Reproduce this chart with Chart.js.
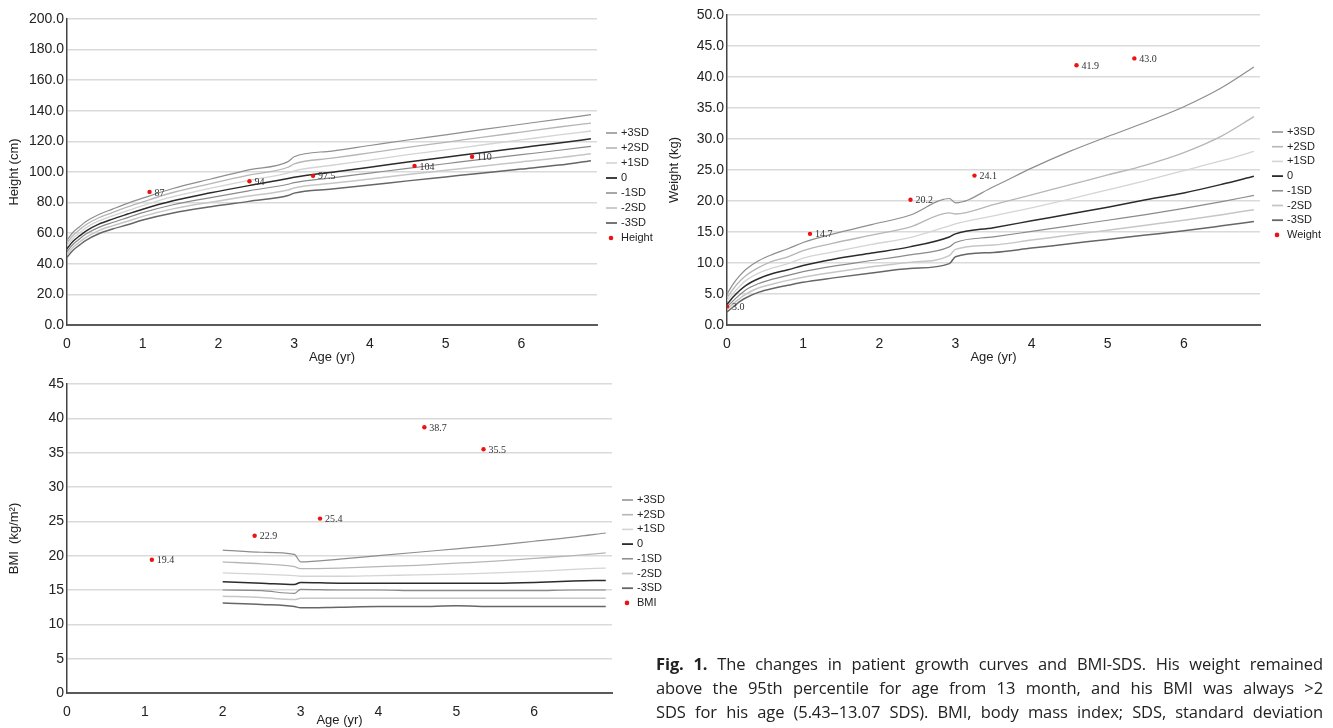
<!DOCTYPE html>
<html>
<head>
<meta charset="utf-8">
<script src="https://cdn.jsdelivr.net/npm/chart.js@4.4.0/dist/chart.umd.min.js"></script>
<style>
  body { margin: 0; background: #fff; width: 1333px; height: 728px; overflow: hidden; position: relative; }
  .box { position: absolute; }
  #caption { position: absolute; left: 656px; top: 652px; width: 667px; font-family: "Open Sans", "Noto Sans", sans-serif; font-size: 16.5px; letter-spacing: -0.1px; line-height: 24px; color: #222; }
  #caption div { text-align: justify; text-align-last: justify; }
</style>
</head>
<body>
<div class="box" style="left:0;top:0"><canvas id="heightChart" width="660" height="365"></canvas></div>
<div class="box" style="left:660px;top:0"><canvas id="weightChart" width="673" height="365"></canvas></div>
<div class="box" style="left:0;top:370px"><canvas id="bmiChart" width="680" height="358"></canvas></div>
<div id="caption">
  <div><b>Fig. 1.</b> The changes in patient growth curves and BMI-SDS. His weight remained</div>
  <div>above the 95th percentile for age from 13 month, and his BMI was always &gt;2</div>
  <div>SDS for his age (5.43–13.07 SDS). BMI, body mass index; SDS, standard deviation</div>
</div>
<script>
// ages (yr) used for the reference curves
const ages = [0, 0.08, 0.17, 0.25, 0.42, 0.6, 0.8, 1, 1.4, 1.9, 2.4, 2.92, 3, 3.5, 4, 4.5, 5, 5.5, 6, 6.5, 6.92];
const bmiAges = [2, 2.5, 2.92, 3, 3.5, 4, 4.5, 5, 5.5, 6, 6.5, 6.92];
const sdLabels = ['+3SD', '+2SD', '+1SD', '0', '-1SD', '-2SD', '-3SD'];

// height (cm)
const heightP3 = [55.6, 60.6, 64.4, 67.6, 72.2, 75.7, 79.5, 82.9, 89.2, 95.4, 101.4, 106.8, 110.0, 113.7, 117.3, 120.9, 124.3, 127.8, 131.2, 134.6, 137.5];
const heightP2 = [53.7, 58.6, 62.4, 65.5, 70.1, 73.5, 77.2, 80.5, 86.6, 92.4, 97.9, 103.1, 105.3, 109.0, 112.5, 116.1, 119.4, 122.8, 126.1, 129.4, 132.0];
const heightP1 = [51.8, 56.7, 60.4, 63.5, 68.0, 71.3, 74.8, 78.1, 83.9, 89.4, 94.5, 99.4, 100.8, 104.4, 107.8, 111.3, 114.5, 117.8, 121.0, 124.2, 126.8];
const height0  = [49.9, 54.7, 58.4, 61.4, 65.9, 69.2, 72.5, 75.7, 81.2, 86.4, 91.1, 95.7, 96.5, 99.9, 103.1, 106.5, 109.6, 112.8, 115.9, 119.0, 121.7];
const heightM1 = [48.0, 52.8, 56.4, 59.4, 63.8, 67.0, 70.2, 73.4, 78.6, 83.3, 87.7, 92.0, 93.0, 96.2, 99.3, 102.4, 105.4, 108.4, 111.3, 114.2, 116.8];
const heightM2 = [46.1, 50.8, 54.4, 57.3, 61.7, 64.8, 67.8, 71.0, 75.9, 80.3, 84.3, 88.3, 89.6, 92.6, 95.4, 98.3, 101.1, 103.9, 106.6, 109.3, 112.0];
const heightM3 = [44.2, 48.9, 52.4, 55.3, 59.6, 62.7, 65.5, 68.6, 73.2, 77.3, 80.8, 84.6, 86.2, 88.9, 91.5, 94.2, 96.8, 99.4, 101.9, 104.5, 107.4];

// weight (kg)
const weightP3 = [5.0, 6.6, 8.0, 9.0, 10.4, 11.4, 12.3, 13.3, 14.7, 16.2, 17.7, 20.4, 19.7, 22.3, 25.3, 28.0, 30.4, 32.7, 35.2, 38.3, 41.6];
const weightP2 = [4.4, 5.8, 7.1, 8.0, 9.3, 10.3, 11.0, 12.0, 13.2, 14.5, 15.8, 18.1, 17.9, 19.4, 21.0, 22.6, 24.2, 25.8, 27.8, 30.5, 33.6];
const weightP1 = [3.9, 5.1, 6.3, 7.2, 8.4, 9.2, 9.9, 10.8, 11.8, 13.0, 14.1, 16.0, 16.3, 17.6, 18.9, 20.3, 21.8, 23.3, 24.9, 26.5, 28.0];
const weight0  = [3.3, 4.5, 5.6, 6.4, 7.5, 8.3, 8.9, 9.6, 10.6, 11.6, 12.6, 14.2, 14.7, 15.7, 16.8, 17.9, 19.0, 20.2, 21.3, 22.7, 24.0];
const weightM1 = [2.9, 3.9, 4.9, 5.7, 6.7, 7.4, 8.0, 8.6, 9.5, 10.4, 11.3, 12.6, 13.3, 14.2, 15.1, 16.0, 16.9, 17.8, 18.8, 19.9, 20.9];
const weightM2 = [2.5, 3.4, 4.3, 5.0, 6.0, 6.6, 7.2, 7.7, 8.5, 9.4, 10.1, 11.2, 12.2, 12.9, 13.7, 14.5, 15.3, 16.1, 16.9, 17.8, 18.6];
const weightM3 = [2.1, 2.9, 3.8, 4.4, 5.3, 5.9, 6.4, 6.9, 7.6, 8.4, 9.1, 9.9, 11.0, 11.7, 12.4, 13.1, 13.8, 14.5, 15.2, 16.0, 16.7];

// BMI (kg/m2)
const bmiP3 = [20.8, 20.5, 20.2, 19.1, 19.5, 20.0, 20.5, 21.0, 21.5, 22.1, 22.7, 23.3];
const bmiP2 = [19.1, 18.8, 18.4, 18.1, 18.2, 18.4, 18.6, 18.9, 19.2, 19.6, 20.0, 20.4];
const bmiP1 = [17.5, 17.3, 17.1, 17.0, 17.0, 17.1, 17.2, 17.3, 17.5, 17.7, 18.0, 18.2];
const bmi0  = [16.2, 16.0, 15.8, 16.1, 16.0, 16.0, 16.0, 16.0, 16.0, 16.1, 16.3, 16.4];
const bmiM1 = [15.0, 14.9, 14.5, 15.1, 15.0, 15.0, 14.9, 14.9, 14.9, 14.9, 15.0, 15.0];
const bmiM2 = [14.1, 13.9, 13.6, 13.8, 13.8, 13.8, 13.8, 13.8, 13.8, 13.8, 13.8, 13.8];
const bmiM3 = [13.1, 12.9, 12.6, 12.4, 12.5, 12.6, 12.6, 12.7, 12.6, 12.6, 12.6, 12.6];

// patient measurements
const visitAges = [1.09, 2.41, 3.25, 4.59, 5.35];
const heightObs = [87, 94, 97.5, 104, 110];
const weightAges = [0, 1.09, 2.41, 3.25, 4.59, 5.35];
const weightObs = [3.0, 14.7, 20.2, 24.1, 41.9, 43.0];
const bmiObs = [19.4, 22.9, 25.4, 38.7, 35.5];

const sdColors = ['#8e8e8e', '#b6b6b6', '#d4d4d4', '#2b2b2b', '#8a8a8a', '#c6c6c6', '#666666'];
const sdWidths = [1.2, 1.3, 1.3, 1.5, 1.2, 1.5, 1.5];
const sans = '"Liberation Sans", Arial, sans-serif';

function curveSets(xs, series) {
  return series.map((ys, i) => ({
    label: sdLabels[i],
    data: xs.map((x, j) => ({ x: x, y: ys[j] })),
    showLine: true,
    borderColor: sdColors[i],
    backgroundColor: sdColors[i],
    borderWidth: sdWidths[i],
    pointRadius: 0,
    cubicInterpolationMode: 'monotone'
  }));
}

function obsSet(label, xs, ys, fmt) {
  return {
    label: label,
    data: xs.map((x, j) => ({ x: x, y: ys[j] })),
    showLine: false,
    pointRadius: 2.2,
    borderWidth: 0,
    backgroundColor: '#ee1111',
    borderColor: '#ee1111',
    order: -1,
    pointText: ys.map(fmt)
  };
}

// small serif labels beside the red points
const valueLabels = {
  id: 'valueLabels',
  afterDatasetsDraw(chart) {
    const ctx = chart.ctx;
    ctx.save();
    ctx.font = '10px "Liberation Serif", "Times New Roman", serif';
    ctx.fillStyle = '#333';
    ctx.textBaseline = 'middle';
    chart.data.datasets.forEach((ds, i) => {
      if (!ds.pointText) return;
      chart.getDatasetMeta(i).data.forEach((pt, j) => {
        ctx.fillText(ds.pointText[j], pt.x + 5, pt.y + 1);
      });
    });
    ctx.restore();
  }
};

// legend drawn to the right of the plot
const sdLegend = {
  id: 'sdLegend',
  afterDraw(chart, args, opts) {
    const ctx = chart.ctx;
    ctx.save();
    ctx.font = '11px ' + sans;
    ctx.textBaseline = 'middle';
    chart.data.datasets.forEach((ds, i) => {
      const y = opts.y + i * opts.gap;
      if (ds.showLine) {
        ctx.strokeStyle = ds.borderColor;
        ctx.lineWidth = ds.borderWidth + 0.3;
        ctx.beginPath();
        ctx.moveTo(opts.x, y);
        ctx.lineTo(opts.x + 11, y);
        ctx.stroke();
      } else {
        ctx.fillStyle = ds.backgroundColor;
        ctx.beginPath();
        ctx.arc(opts.x + 5, y, 2.3, 0, Math.PI * 2);
        ctx.fill();
      }
      ctx.fillStyle = '#222';
      ctx.fillText(ds.label, opts.x + 15, y);
    });
    ctx.restore();
  }
};

function makeChart(id, datasets, cfg) {
  return new Chart(document.getElementById(id), {
    type: 'scatter',
    data: { datasets: datasets },
    plugins: [valueLabels, sdLegend],
    options: {
      responsive: false,
      animation: false,
      layout: { padding: { top: cfg.top, right: cfg.right, left: 0, bottom: 0 } },
      plugins: {
        legend: { display: false },
        tooltip: { enabled: false },
        sdLegend: cfg.legend
      },
      scales: {
        x: {
          type: 'linear', min: 0, max: 7,
          afterFit(scale) { scale.height = cfg.xHeight; },
          // only whole years 0..6 are labelled
          afterBuildTicks(scale) { scale.ticks = scale.ticks.filter(t => Number.isInteger(t.value) && t.value < 7); },
          ticks: { stepSize: 1, padding: 3, color: '#222', font: { family: sans, size: 14 } },
          grid: { display: false },
          border: { color: '#5a5a5a', width: 2 },
          title: { display: true, text: 'Age (yr)', color: '#222', font: { family: sans, size: 13 }, padding: { top: cfg.xTitlePad, bottom: 0 } }
        },
        y: {
          min: 0, max: cfg.yMax,
          afterFit(scale) { scale.width = 67; },
          ticks: { stepSize: cfg.yStep, padding: 3, color: '#222', font: { family: sans, size: 14 }, callback: cfg.yFmt },
          grid: { color: '#dadada', lineWidth: 1.5, drawTicks: false },
          border: { color: '#444', width: 1.5 },
          title: { display: true, text: cfg.yTitle, color: '#222', font: { family: sans, size: 13 }, padding: { top: 7, bottom: 0 } }
        }
      }
    }
  });
}

makeChart('heightChart',
  curveSets(ages, [heightP3, heightP2, heightP1, height0, heightM1, heightM2, heightM3])
    .concat([obsSet('Height', visitAges, heightObs, v => String(v))]),
  { top: 19, right: 63, xHeight: 40, xTitlePad: 4, yMax: 200, yStep: 20, yFmt: v => v.toFixed(1),
    yTitle: 'Height (cm)', legend: { x: 606, y: 133, gap: 15 } });

makeChart('weightChart',
  curveSets(ages, [weightP3, weightP2, weightP1, weight0, weightM1, weightM2, weightM3])
    .concat([obsSet('Weight', weightAges, weightObs, v => v.toFixed(1))]),
  { top: 15, right: 73, xHeight: 40, xTitlePad: 4, yMax: 50, yStep: 5, yFmt: v => v.toFixed(1),
    yTitle: 'Weight (kg)', legend: { x: 612, y: 132, gap: 14.7 } });

makeChart('bmiChart',
  curveSets(bmiAges, [bmiP3, bmiP2, bmiP1, bmi0, bmiM1, bmiM2, bmiM3])
    .concat([obsSet('BMI', visitAges, bmiObs, v => v.toFixed(1))]),
  { top: 14, right: 68, xHeight: 35, xTitlePad: 0, yMax: 45, yStep: 5, yFmt: v => String(v),
    yTitle: 'BMI  (kg/m²)', legend: { x: 622, y: 130, gap: 14.7 } });
</script>
</body>
</html>
